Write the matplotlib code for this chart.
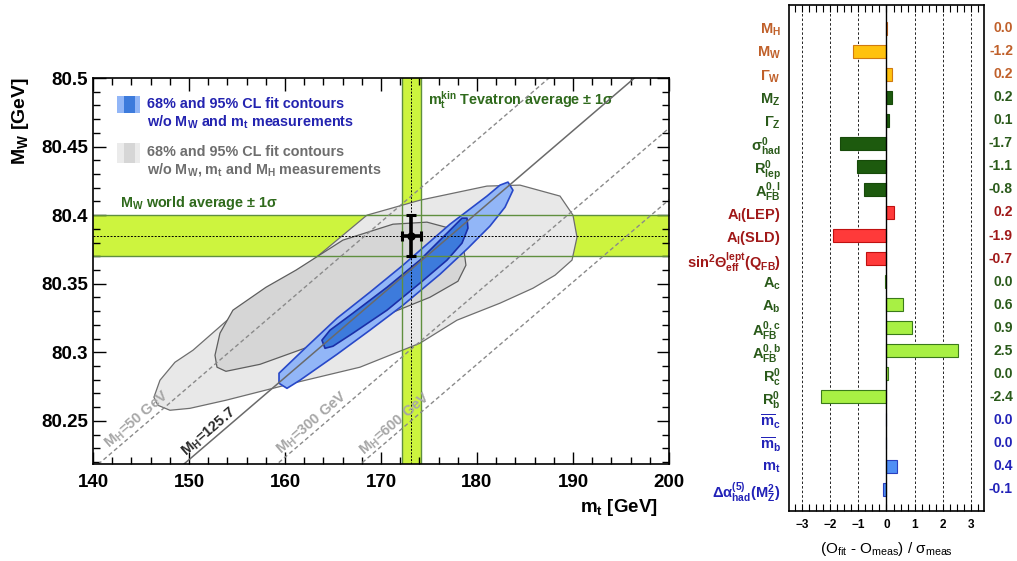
import numpy as np
import matplotlib
matplotlib.use("Agg")
import matplotlib.pyplot as plt
from matplotlib.patches import Polygon, Rectangle
from matplotlib.ticker import MultipleLocator

plt.rcParams['font.family'] = ['Liberation Sans', 'DejaVu Sans']
plt.rcParams['font.weight'] = 'bold'
plt.rcParams['mathtext.fontset'] = 'custom'
plt.rcParams['mathtext.rm'] = 'Liberation Sans:bold'
plt.rcParams['mathtext.it'] = 'Liberation Sans:bold'
plt.rcParams['mathtext.bf'] = 'Liberation Sans:bold'
plt.rcParams['mathtext.default'] = 'regular'

# ---- left panel data (mt [GeV], MW [GeV]) ----
gray95_mt = [146.35, 146.98, 148.54, 150.42, 154.58, 159.48, 162.92, 168.54, 174.06, 181.04,
             184.48, 188.65, 190.0, 190.42, 189.90, 188.13, 185.83, 182.40, 177.92, 174.06,
             167.81, 160.83, 153.85, 150.10, 148.02, 146.77]
gray95_mw = [80.2672, 80.2796, 80.2927, 80.3015, 80.3270, 80.3504, 80.3672, 80.4000, 80.4109, 80.4212,
             80.4219, 80.4139, 80.4000, 80.3839, 80.3672, 80.3562, 80.3467, 80.3358, 80.3234, 80.3066,
             80.2891, 80.2774, 80.2650, 80.2591, 80.2577, 80.2613]

gray68_mt = [152.71, 153.23, 154.58, 158.02, 161.15, 166.04, 171.25, 174.79, 177.50, 178.54,
             178.85, 178.02, 175.10, 171.25, 164.38, 157.40, 153.85, 152.92]
gray68_mw = [80.2978, 80.3139, 80.3307, 80.3474, 80.3599, 80.3818, 80.3934, 80.3949, 80.3898, 80.3796,
             80.3635, 80.3518, 80.3401, 80.3292, 80.3088, 80.2912, 80.2861, 80.2891]

blue95_mt = [183.23, 183.75, 182.92, 181.35, 179.06, 176.15, 172.29, 168.85, 165.42, 161.56,
             160.21, 159.38, 159.38, 161.88, 165.42, 168.85, 172.29, 177.19, 181.04, 182.40]
blue95_mw = [80.4241, 80.4182, 80.4058, 80.3920, 80.3759, 80.3569, 80.3343, 80.3161, 80.2985, 80.2796,
             80.2737, 80.2774, 80.2847, 80.3015, 80.3248, 80.3438, 80.3635, 80.3934, 80.4139, 80.4219]

blue68_mt = [178.96, 179.06, 178.44, 176.88, 174.06, 170.63, 167.08, 165.00, 164.17, 163.85,
             164.69, 167.08, 170.63, 174.06, 177.50, 178.44]
blue68_mw = [80.3978, 80.3905, 80.3796, 80.3672, 80.3504, 80.3307, 80.3139, 80.3044, 80.3029, 80.3088,
             80.3161, 80.3285, 80.3474, 80.3672, 80.3912, 80.3978]

mw_avg, mw_err = 80.385, 0.015
mt_avg, mt_err = 173.18, 0.94

# M_H isolines: mt where each line leaves the bottom edge, common slope
mh_names = ['50 GeV', '125.7', '300 GeV', '600 GeV']
mh_mt_edge = [140.5, 149.4, 159.1, 167.8]
mw_edge = 80.218
mh_slope = 0.006
mh_label_mt = [145.2, 152.6, 163.4, 172.0]

xticks = [140, 150, 160, 170, 180, 190, 200]
yticks = [80.25, 80.3, 80.35, 80.4, 80.45, 80.5]
ytick_labels = ['80.25', '80.3', '80.35', '80.4', '80.45', '80.5']

# ---- right panel data ----
obs_labels = [r'$M_H$', r'$M_W$', r'$\Gamma_W$', r'$M_Z$', r'$\Gamma_Z$', r'$\sigma^0_{had}$',
              r'$R^0_{lep}$', r'$A^{0,l}_{FB}$', r'$A_l$(LEP)', r'$A_l$(SLD)',
              r'$sin^2\Theta^{lept}_{eff}(Q_{FB})$', r'$A_c$', r'$A_b$', r'$A^{0,c}_{FB}$',
              r'$A^{0,b}_{FB}$', r'$R^0_c$', r'$R^0_b$', r'$\overline{m}_c$', r'$\overline{m}_b$',
              r'$m_t$', r'$\Delta\alpha^{(5)}_{had}(M^2_Z)$']
pulls = [0.02, -1.17, 0.18, 0.2, 0.1, -1.65, -1.04, -0.81, 0.25, -1.88, -0.71,
         -0.06, 0.6, 0.9, 2.52, 0.07, -2.3, 0.0, 0.0, 0.39, -0.13]
pull_text = ['0.0', '-1.2', '0.2', '0.2', '0.1', '-1.7', '-1.1', '-0.8', '0.2', '-1.9', '-0.7',
             '0.0', '0.6', '0.9', '2.5', '0.0', '-2.4', '0.0', '0.0', '0.4', '-0.1']

# styles per row
bar_colors = ['#e8782a', '#ffc20e', '#ffc20e'] + ['#1d5a0e'] * 5 + ['#ff3a3a'] * 3 + \
             ['#a8f044'] * 6 + ['#4f8ff5'] * 4
edge_colors = ['#c0601a', '#d07a10', '#d07a10'] + ['#174a0a'] * 5 + ['#c01010'] * 3 + \
              ['#3a7a1a'] * 6 + ['#2a40c0'] * 4
text_colors = ['#c0602a'] * 3 + ['#2a5a1a'] * 5 + ['#a01818'] * 3 + \
              ['#2a5a1a'] * 6 + ['#2222b8'] * 4

band_green = '#cdf43e'
band_edge = '#5f8f3f'

fig = plt.figure(figsize=(10.17, 5.61), dpi=100)

# ================= left panel =================
ax = fig.add_axes([0.0914, 0.1729, 0.5664, 0.688])
ax.set_xlim(140, 200)
ax.set_ylim(80.2185, 80.5)

ax.axhspan(mw_avg - mw_err, mw_avg + mw_err, color=band_green, lw=0, zorder=1)
ax.axvspan(mt_avg - mt_err, mt_avg + mt_err, color=band_green, lw=0, zorder=1)

ax.add_patch(Polygon(np.column_stack([gray95_mt, gray95_mw]), closed=True,
                     fc='#e8e8e8', ec='#6e6e6e', lw=0.9, joinstyle='round', zorder=2))
ax.add_patch(Polygon(np.column_stack([gray68_mt, gray68_mw]), closed=True,
                     fc='#d6d6d6', ec='#5e5e5e', lw=0.9, joinstyle='round', zorder=3))
ax.add_patch(Polygon(np.column_stack([blue95_mt, blue95_mw]), closed=True,
                     fc='#92b6f7', ec='#2848c8', lw=1.2, joinstyle='round', zorder=4))
ax.add_patch(Polygon(np.column_stack([blue68_mt, blue68_mw]), closed=True,
                     fc='#3d7bdc', ec='#1a2fa8', lw=1.2, joinstyle='round', zorder=5))

for v in (mw_avg - mw_err, mw_avg + mw_err):
    ax.axhline(v, color=band_edge, lw=1.0, zorder=6)
for v in (mt_avg - mt_err, mt_avg + mt_err):
    ax.axvline(v, color=band_edge, lw=1.0, zorder=6)
ax.axhline(mw_avg, color='k', ls=(0, (2, 1.5)), lw=0.7, zorder=6)
ax.axvline(mt_avg, color='k', ls=(0, (2, 1.5)), lw=0.7, zorder=6)

xs = np.array([140.0, 200.0])
for name, x0, xl in zip(mh_names, mh_mt_edge, mh_label_mt):
    ys = mw_edge + mh_slope * (xs - x0)
    if name == '125.7':
        ax.plot(xs, ys, color='#6a6a6a', lw=1.1, zorder=7)
        tcol = '#2a2a2a'
    else:
        ax.plot(xs, ys, color='#8a8a8a', lw=1.0, ls=(0, (3, 2)), zorder=7)
        tcol = '#a6a6a6'
    yl = mw_edge + mh_slope * (xl - x0)
    p1 = ax.transData.transform((xl, yl))
    p2 = ax.transData.transform((xl + 1, yl + mh_slope))
    ang = np.degrees(np.arctan2(p2[1] - p1[1], p2[0] - p1[0]))
    ax.text(xl, yl, r'$M_H$=' + name, rotation=ang, rotation_mode='anchor',
            ha='center', va='bottom', color=tcol, fontsize=10.5, zorder=8)

ax.errorbar(mt_avg, mw_avg, xerr=mt_err, yerr=mw_err, fmt='o', color='k', ms=5,
            lw=2.6, capsize=3.5, capthick=2.2, zorder=9)

# legend-like annotations
ax.add_patch(Rectangle((0.0417, 0.909), 0.04, 0.044, transform=ax.transAxes,
                       fc='#92b6f7', ec='none', zorder=10))
ax.add_patch(Rectangle((0.0538, 0.909), 0.019, 0.044, transform=ax.transAxes,
                       fc='#3d7bdc', ec='none', zorder=11))
ax.add_patch(Rectangle((0.0417, 0.780), 0.04, 0.052, transform=ax.transAxes,
                       fc='#ebebeb', ec='none', zorder=10))
ax.add_patch(Rectangle((0.0538, 0.780), 0.019, 0.052, transform=ax.transAxes,
                       fc='#d6d6d6', ec='none', zorder=11))
lfs = 10.4
ax.text(0.094, 0.933, '68% and 95% CL fit contours', transform=ax.transAxes,
        color='#2323b0', fontsize=lfs, va='center')
ax.text(0.094, 0.886, r'w/o $M_W$ and $m_t$ measurements', transform=ax.transAxes,
        color='#2323b0', fontsize=lfs, va='center')
ax.text(0.094, 0.808, '68% and 95% CL fit contours', transform=ax.transAxes,
        color='#6e6e6e', fontsize=lfs, va='center')
ax.text(0.094, 0.764, r'w/o $M_W$, $m_t$ and $M_H$ measurements', transform=ax.transAxes,
        color='#6e6e6e', fontsize=lfs, va='center')
ax.text(0.047, 0.676, r'$M_W$ world average $\pm$ 1$\sigma$', transform=ax.transAxes,
        color='#2f6a1c', fontsize=lfs, va='center')
ax.text(0.582, 0.943, r'$m_t^{kin}$ Tevatron average $\pm$ 1$\sigma$', transform=ax.transAxes,
        color='#2f6a1c', fontsize=lfs, va='center')

ax.set_xticks(xticks)
ax.set_yticks(yticks)
ax.set_yticklabels(ytick_labels)
ax.xaxis.set_minor_locator(MultipleLocator(2))
ax.yaxis.set_minor_locator(MultipleLocator(0.01))
ax.tick_params(which='both', direction='in', top=True, right=True, labelsize=13.5, width=1)
ax.tick_params(which='major', length=9)
ax.tick_params(which='minor', length=5)
ax.tick_params(axis='x', pad=7)
for s in ax.spines.values():
    s.set_linewidth(1.2)
    s.set_zorder(12)

fig.text(0.020, 1 - 77 / 561, r'$M_W$ [GeV]', rotation=90, ha='center', va='top', fontsize=14)
fig.text(658 / 1017, 1 - 507 / 561, r'$m_t$ [GeV]', ha='right', va='center', fontsize=13.5)

# ================= right panel =================
ax2 = fig.add_axes([0.7758, 0.0891, 0.1917, 0.902])
rows = np.arange(len(pulls))
ax2.barh(rows, pulls, height=0.56, color=bar_colors, edgecolor=edge_colors, lw=0.8, zorder=3)
ax2.set_xlim(-3.45, 3.45)
ax2.set_ylim(len(pulls) - 0.05, -1.0)
for v in [-3, -2, -1, 1, 2, 3]:
    ax2.axvline(v, color='k', ls=(0, (3, 2.5)), lw=0.6, zorder=1)
ax2.axvline(0, color='k', lw=1.0, zorder=4)

ax2.set_yticks(rows)
ax2.set_yticklabels(obs_labels, fontsize=10.5)
for t, c in zip(ax2.get_yticklabels(), text_colors):
    t.set_color(c)
ax2.tick_params(axis='y', length=0, pad=6)
for i, (s, c) in enumerate(zip(pull_text, text_colors)):
    ax2.text(1.149, i, s, transform=ax2.get_yaxis_transform(), ha='right', va='center',
             color=c, fontsize=10)

ax2.set_xticks([-3, -2, -1, 0, 1, 2, 3])
ax2.xaxis.set_minor_locator(MultipleLocator(0.25))
ax2.tick_params(axis='x', which='both', direction='in', top=True, length=5, width=0.8,
                labelsize=8.5, pad=6)
ax2.set_xlabel(r'$(O_{fit}$ - $O_{meas})$ / $\sigma_{meas}$', fontsize=11, labelpad=6)
for s in ax2.spines.values():
    s.set_linewidth(1.2)

fig.savefig('out.png', dpi=100)
